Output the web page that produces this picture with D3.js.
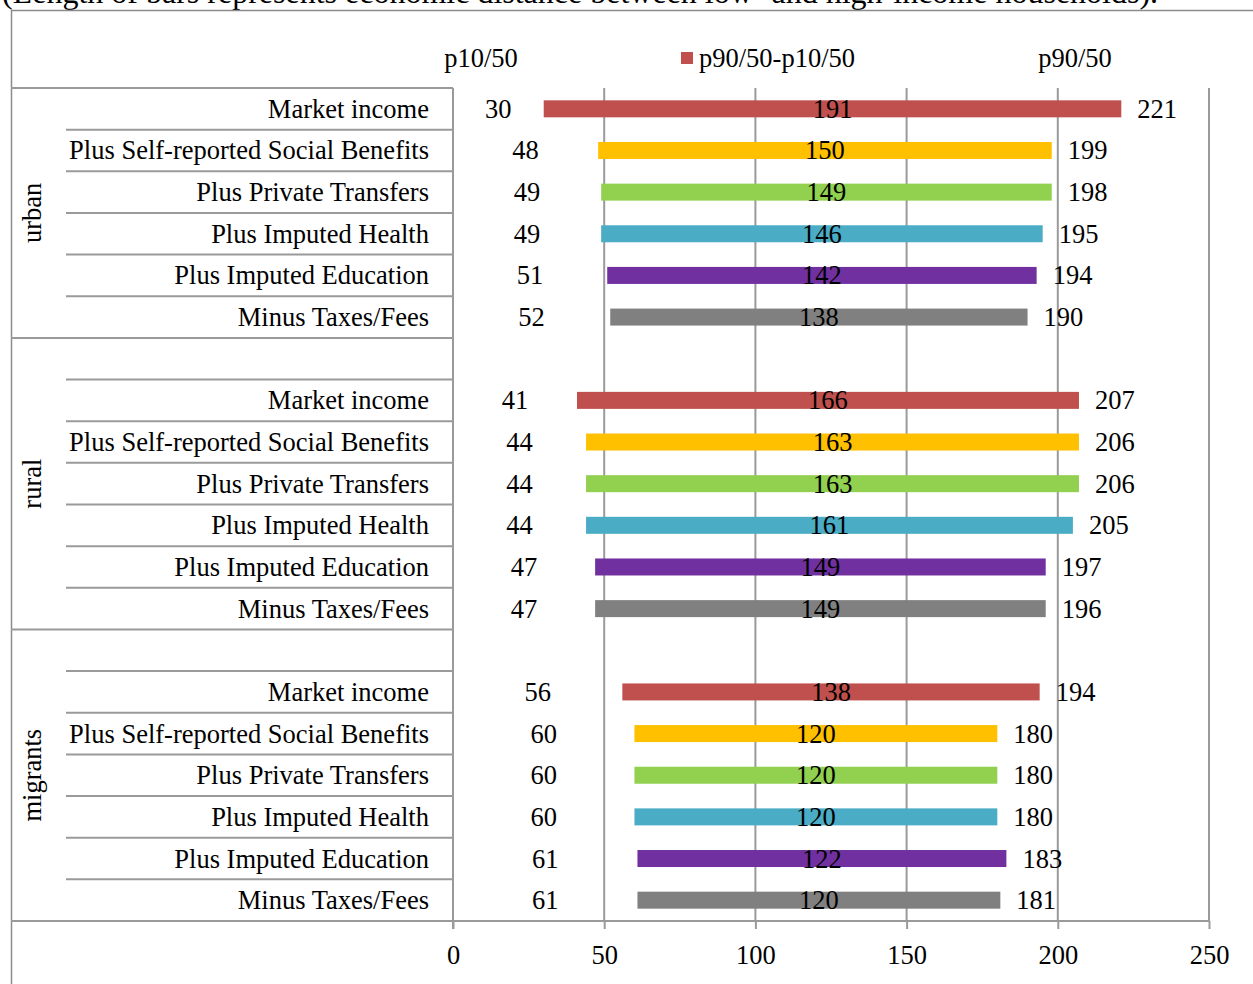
<!DOCTYPE html>
<html>
<head>
<meta charset="utf-8">
<script src="https://cdn.jsdelivr.net/npm/d3@7"></script>
<style>
  html, body { margin: 0; padding: 0; background: #fff; }
  svg { display: block; font-family: "Liberation Serif", "Times New Roman", serif; }
</style>
</head>
<body>
<svg id="chart" width="1253" height="984"></svg>
<script>
// Income-distribution ratios by population group and income concept
const groups = ["urban", "rural", "migrants"];
const stages = [
  "Market income",
  "Plus Self-reported Social Benefits",
  "Plus Private Transfers",
  "Plus Imputed Health",
  "Plus Imputed Education",
  "Minus Taxes/Fees"
];
const stageColors = ["#C0504D", "#FFC000", "#92D050", "#4BACC6", "#7030A0", "#808080"];

// p10/50 ratios (x100), one row per stage
const p10 = {
  urban:    [30, 48, 49, 49, 51, 52],
  rural:    [41, 44, 44, 44, 47, 47],
  migrants: [56, 60, 60, 60, 61, 61]
};
// p90/50 - p10/50 spread
const spread = {
  urban:    [191, 150, 149, 146, 142, 138],
  rural:    [166, 163, 163, 161, 149, 149],
  migrants: [138, 120, 120, 120, 122, 120]
};
// p90/50 ratios
const p90 = {
  urban:    [221, 199, 198, 195, 194, 190],
  rural:    [207, 206, 206, 205, 197, 196],
  migrants: [194, 180, 180, 180, 183, 181]
};
const xTicks = [0, 50, 100, 150, 200, 250];

const svg = d3.select("#chart");
const gray = "#9a9a9a";
const fontSize = 26.5;

// Build the category slots: each group after the first opens with an empty slot
const slots = [];
groups.forEach((g, gi) => {
  if (gi > 0) slots.push({ group: g, blank: true, id: g + "-blank" });
  stages.forEach((s, si) => slots.push({ group: g, blank: false, stage: s, si, id: g + "-" + si }));
});

const plotLeft = 453, plotRight = 1209, plotTop = 88, plotBottom = 921;
const x = d3.scaleLinear().domain([0, 250]).range([plotLeft, plotRight]);
const y = d3.scaleBand().domain(slots.map(d => d.id)).range([plotTop, plotBottom]).paddingInner(0).paddingOuter(0);
const bandH = y.bandwidth();
const barH = 17;
const textDy = 9;

// Subtitle line above the frame
svg.append("text")
  .attr("x", 2).attr("y", 3)
  .attr("font-size", 32)
  .attr("fill", "#000")
  .text("(Length of bars represents economic distance between low- and high-income households).");

// Outer frame (top and left edges)
svg.append("line").attr("x1", 11).attr("x2", 1253).attr("y1", 10.5).attr("y2", 10.5)
  .attr("stroke", "#8c8c8c").attr("stroke-width", 1.5);
svg.append("line").attr("x1", 11.5).attr("x2", 11.5).attr("y1", 10).attr("y2", 984)
  .attr("stroke", "#8c8c8c").attr("stroke-width", 1.5);

// Vertical gridlines with the bottom value axis
const xAxis = d3.axisBottom(x).tickValues(xTicks).tickSize(8).tickSizeOuter(0).tickFormat(d3.format("d"));
const axisG = svg.append("g").attr("transform", `translate(0,${plotBottom})`).call(xAxis);
axisG.select(".domain").remove();
axisG.selectAll(".tick line").attr("stroke", gray).attr("stroke-width", 2);
axisG.selectAll(".tick text")
  .attr("font-family", "Liberation Serif, Times New Roman, serif")
  .attr("font-size", fontSize).attr("fill", "#000").attr("dy", 0).attr("y", 43);

svg.append("g").selectAll("line")
  .data(xTicks.filter(v => v > 0))
  .join("line")
  .attr("x1", d => x(d)).attr("x2", d => x(d))
  .attr("y1", plotTop).attr("y2", plotBottom)
  .attr("stroke", gray).attr("stroke-width", 2);

// Category axis line
svg.append("line").attr("x1", plotLeft).attr("x2", plotLeft)
  .attr("y1", plotTop).attr("y2", plotBottom + 8)
  .attr("stroke", gray).attr("stroke-width", 2);

// Category separators: full width at group edges, short between items
const bounds = [];
slots.forEach((d, i) => {
  const top = y(d.id);
  const isGroupStart = i === 0 || slots[i - 1].group !== d.group;
  bounds.push({ y: top, full: isGroupStart });
});
bounds.push({ y: plotBottom, full: true });
svg.append("g").selectAll("line")
  .data(bounds)
  .join("line")
  .attr("x1", d => d.full ? 11 : 66)
  .attr("x2", d => d.y === plotBottom ? plotRight : plotLeft)
  .attr("y1", d => d.y).attr("y2", d => d.y)
  .attr("stroke", gray).attr("stroke-width", 2);

// Item labels
const items = slots.filter(d => !d.blank);
svg.append("g").selectAll("text")
  .data(items)
  .join("text")
  .attr("x", 429)
  .attr("y", d => y(d.id) + bandH / 2 + textDy)
  .attr("text-anchor", "end")
  .attr("font-size", fontSize)
  .text(d => d.stage);

// Group labels, rotated
groups.forEach(g => {
  const gs = slots.filter(d => d.group === g);
  const top = y(gs[0].id), bottom = y(gs[gs.length - 1].id) + bandH;
  const cy = (top + bottom) / 2;
  svg.append("text")
    .attr("transform", `translate(41,${cy}) rotate(-90)`)
    .attr("text-anchor", "middle")
    .attr("font-size", fontSize)
    .text(g);
});

// Floating bars: start at p10/50, length = spread
const barsG = svg.append("g");
barsG.selectAll("rect")
  .data(items)
  .join("rect")
  .attr("x", d => x(p10[d.group][d.si]))
  .attr("width", d => x(p10[d.group][d.si] + spread[d.group][d.si]) - x(p10[d.group][d.si]))
  .attr("y", d => y(d.id) + bandH / 2 - barH / 2)
  .attr("height", barH)
  .attr("fill", d => stageColors[d.si]);

// p10/50 labels, centred on the span from 0 to the value
barsG.selectAll("text.p10")
  .data(items)
  .join("text")
  .attr("class", "p10")
  .attr("x", d => x(p10[d.group][d.si] / 2))
  .attr("y", d => y(d.id) + bandH / 2 + textDy)
  .attr("text-anchor", "middle")
  .attr("font-size", fontSize)
  .text(d => p10[d.group][d.si]);

// spread labels, centred on the bar
barsG.selectAll("text.spread")
  .data(items)
  .join("text")
  .attr("class", "spread")
  .attr("x", d => x(p10[d.group][d.si] + spread[d.group][d.si] / 2))
  .attr("y", d => y(d.id) + bandH / 2 + textDy)
  .attr("text-anchor", "middle")
  .attr("font-size", fontSize)
  .text(d => spread[d.group][d.si]);

// p90/50 labels, just past the bar end
barsG.selectAll("text.p90")
  .data(items)
  .join("text")
  .attr("class", "p90")
  .attr("x", d => x(p10[d.group][d.si] + spread[d.group][d.si]) + 16)
  .attr("y", d => y(d.id) + bandH / 2 + textDy)
  .attr("text-anchor", "start")
  .attr("font-size", fontSize)
  .text(d => p90[d.group][d.si]);

// Header row: series names
svg.append("text").attr("x", 481).attr("y", 67).attr("text-anchor", "middle")
  .attr("font-size", fontSize).text("p10/50");
svg.append("rect").attr("x", 681).attr("y", 52).attr("width", 12).attr("height", 12).attr("fill", stageColors[0]);
svg.append("text").attr("x", 699).attr("y", 67).attr("text-anchor", "start")
  .attr("font-size", fontSize).text("p90/50-p10/50");
svg.append("text").attr("x", 1075).attr("y", 67).attr("text-anchor", "middle")
  .attr("font-size", fontSize).text("p90/50");
</script>
</body>
</html>
